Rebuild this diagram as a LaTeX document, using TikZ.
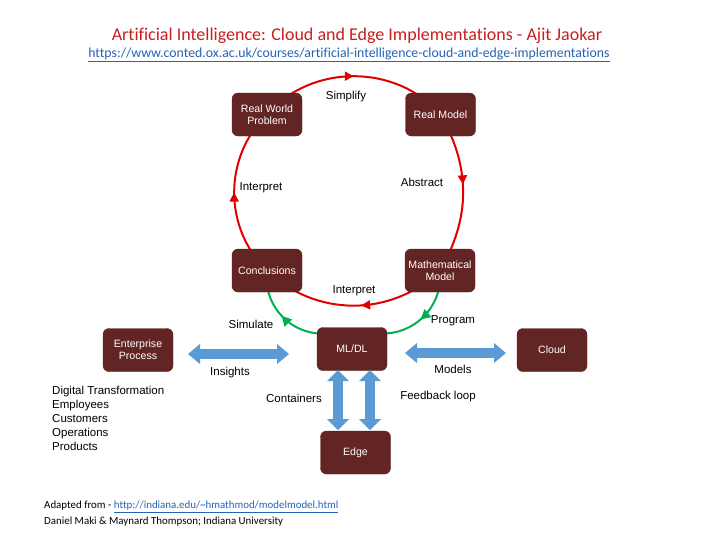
\documentclass[tikz,border=0pt]{standalone}
\usepackage{fontspec}
\setmainfont{Liberation Sans}
\newfontfamily\calib[Ligatures=NoCommon]{Carlito}
\usetikzlibrary{arrows.meta,decorations.markings}
\definecolor{boxred}{HTML}{632523}
\definecolor{arcred}{HTML}{E00000}
\definecolor{arcgreen}{HTML}{00B050}
\definecolor{bluearrow}{HTML}{5B9BD5}
\definecolor{titlered}{HTML}{C8201E}
\definecolor{linkblue}{HTML}{2563B8}
\pgfdeclarelayer{bg}
\pgfsetlayers{bg,main}
\begin{document}
\begin{tikzpicture}[x=1pt,y=1pt,
  box/.style={fill=boxred, draw=boxred!85!black, rounded corners=6pt,
    minimum width=70pt, minimum height=43pt, text=white,
    font=\fontsize{10.6}{12}\selectfont, align=center, inner sep=1pt},
  lbl/.style={font=\fontsize{11.5}{13}\selectfont, inner sep=0pt},
  redarc/.style={color=arcred, line width=2pt, postaction={decorate},
    decoration={markings, mark=at position #1 with {\arrow{Triangle[length=9pt,width=9pt]}}}},
  redarc/.default=0.5,
  greenarc/.style={color=arcgreen, line width=2pt, postaction={decorate},
    decoration={markings, mark=at position #1 with {\arrow{Triangle[length=10pt,width=10pt]}}}},
  greenarc/.default=0.5,
  bluearr/.style={draw=bluearrow, line width=10pt,
    {Triangle[length=12pt,width=20pt,line width=0pt]}-{Triangle[length=12pt,width=20pt,line width=0pt]}},
  bluevarr/.style={draw=bluearrow, line width=10pt,
    {Triangle[length=11pt,width=22pt,line width=0pt]}-{Triangle[length=11pt,width=22pt,line width=0pt]}},
]
\useasboundingbox (0,0) rectangle (710,-533);
\begin{pgfonlayer}{bg}
\fill[white] (0,0) rectangle (710,-533);
\end{pgfonlayer}

% title
\node (title) at (357,-36) {\calib\fontsize{18}{20}\selectfont\color{titlered}Artificial Intelligence: Cloud and Edge Implementations - Ajit Jaokar};
\node (url) at (349,-55) {\calib\fontsize{13.8}{15}\selectfont\color{linkblue}\underline{https://www.conted.ox.ac.uk/courses/artificial-intelligence-cloud-and-edge-implementations}};

% boxes
\node[box] (rwp) at (267,-114.5) {Real World\\Problem};
\node[box] (rm) at (440.5,-114.5) {Real Model};
\node[box] (conc) at (267,-270.5) {Conclusions};
\node[box] (mm) at (440,-270.5) {Mathematical\\Model};
\node[box] (ml) at (352,-349) {ML/DL};
\node[box] (ep) at (138,-350) {Enterprise\\Process};
\node[box] (cloud) at (552,-350) {Cloud};
\node[box] (edge) at (355.5,-452.5) {Edge};

% cycle arcs
\begin{pgfonlayer}{bg}
\draw[redarc] (rwp.center) to[bend left=49] (rm.center);
\draw[redarc=0.45] (rm.center) to[bend left=30] (mm.center);
\draw[redarc=0.46] (mm.center) to[bend left=44] (conc.center);
\draw[redarc] (conc.center) to[bend left=46] (rwp.center);
\draw[greenarc=0.6] (mm.center) to[bend left=46] (ml.24);
\draw[greenarc=0.45] (ml.156) to[bend left=46] (conc.center);
\end{pgfonlayer}

% blue double arrows
\coordinate (insL) at (188,-354);
\coordinate (insR) at (289,-354);
\coordinate (modL) at (405,-353);
\coordinate (modR) at (506,-353);
\coordinate (conT) at (338,-370);
\coordinate (conB) at (338,-430);
\coordinate (fbT) at (370,-370);
\coordinate (fbB) at (370,-430);
\draw[bluearr] (insL) -- (insR);
\draw[bluearr] (modL) -- (modR);
\draw[bluevarr] (conT) -- (conB);
\draw[bluevarr] (fbT) -- (fbB);

% labels
\node[lbl] (l1) at (346,-97) {Simplify};
\node[lbl] (l2) at (422,-182) {Abstract};
\node[lbl] (l3) at (261,-188) {Interpret};
\node[lbl] (l4) at (354,-291) {Interpret};
\node[lbl] (l5) at (251,-324) {Simulate};
\node[lbl] (l6) at (453,-321) {Program};
\node[lbl] (l7) at (230,-373) {Insights};
\node[lbl] (l8) at (453,-369) {Models};
\node[lbl] (l9) at (294,-398) {Containers};
\node[lbl] (l10) at (438,-397) {Feedback loop};

\node[anchor=north west, align=left, inner sep=0pt, font=\fontsize{11.5}{14}\selectfont] (list) at (52,-386)
  {Digital Transformation\\Employees\\Customers\\Operations\\Products};

% footer
\node[anchor=west, inner sep=0pt] (foot1) at (44,-507) {\calib\fontsize{10.9}{12}\selectfont Adapted from - {\color{linkblue}\underline{http://indiana.edu/\textasciitilde hmathmod/modelmodel.html}}};
\node[anchor=west, inner sep=0pt] (foot2) at (44,-522) {\calib\fontsize{10.9}{12}\selectfont Daniel Maki \& Maynard Thompson; Indiana University};
\end{tikzpicture}
\end{document}
